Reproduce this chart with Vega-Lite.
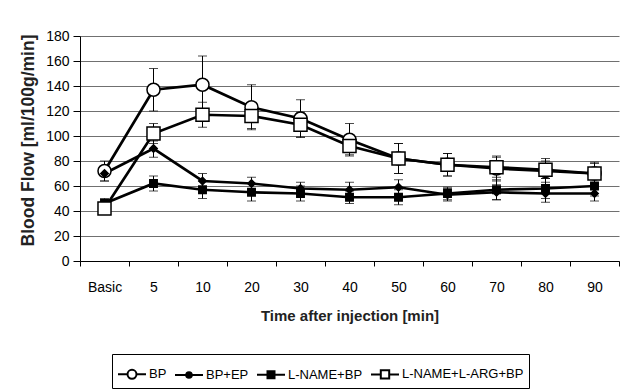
{
  "$schema": "https://vega.github.io/schema/vega-lite/v6.json",
  "autosize": {"type": "none"},
  "width": 539,
  "height": 225,
  "padding": {"left": 80, "top": 36, "right": 8, "bottom": 131},
  "background": "white",
  "config": {
    "view": {"stroke": null},
    "font": "Liberation Sans",
    "axis": {
      "domainColor": "black",
      "tickColor": "black",
      "labelColor": "black",
      "titleColor": "#222",
      "labelFont": "Liberation Sans",
      "titleFont": "Liberation Sans",
      "labelFontSize": 14,
      "titleFontWeight": "bold",
      "labelOverlap": false
    }
  },
  "datasets": {
    "flow": [
      {"series": "BP", "time": "Basic", "mean": 72, "lo": 64, "hi": 80},
      {"series": "BP", "time": "5", "mean": 137, "lo": 120, "hi": 154},
      {"series": "BP", "time": "10", "mean": 141, "lo": 118, "hi": 164},
      {"series": "BP", "time": "20", "mean": 123, "lo": 105, "hi": 141},
      {"series": "BP", "time": "30", "mean": 114, "lo": 99, "hi": 129},
      {"series": "BP", "time": "40", "mean": 97, "lo": 84, "hi": 110},
      {"series": "BP", "time": "50", "mean": 82, "lo": 70, "hi": 94},
      {"series": "BP", "time": "60", "mean": 77, "lo": 68, "hi": 86},
      {"series": "BP", "time": "70", "mean": 74, "lo": 64, "hi": 84},
      {"series": "BP", "time": "80", "mean": 72, "lo": 63, "hi": 82},
      {"series": "BP", "time": "90", "mean": 70, "lo": 61, "hi": 79},
      {"series": "BP+EP", "time": "Basic", "mean": 70, "lo": 64, "hi": 76},
      {"series": "BP+EP", "time": "5", "mean": 90, "lo": 83, "hi": 96},
      {"series": "BP+EP", "time": "10", "mean": 64, "lo": 58, "hi": 70},
      {"series": "BP+EP", "time": "20", "mean": 62, "lo": 57, "hi": 67},
      {"series": "BP+EP", "time": "30", "mean": 58, "lo": 53, "hi": 63},
      {"series": "BP+EP", "time": "40", "mean": 57, "lo": 51, "hi": 63},
      {"series": "BP+EP", "time": "50", "mean": 59, "lo": 53, "hi": 65},
      {"series": "BP+EP", "time": "60", "mean": 53, "lo": 48, "hi": 58},
      {"series": "BP+EP", "time": "70", "mean": 55, "lo": 49, "hi": 61},
      {"series": "BP+EP", "time": "80", "mean": 54, "lo": 47, "hi": 61},
      {"series": "BP+EP", "time": "90", "mean": 54, "lo": 48, "hi": 60},
      {"series": "L-NAME+BP", "time": "Basic", "mean": 46, "lo": 42, "hi": 50},
      {"series": "L-NAME+BP", "time": "5", "mean": 62, "lo": 56, "hi": 68},
      {"series": "L-NAME+BP", "time": "10", "mean": 57, "lo": 50, "hi": 64},
      {"series": "L-NAME+BP", "time": "20", "mean": 55, "lo": 48, "hi": 62},
      {"series": "L-NAME+BP", "time": "30", "mean": 54, "lo": 48, "hi": 60},
      {"series": "L-NAME+BP", "time": "40", "mean": 51, "lo": 46, "hi": 56},
      {"series": "L-NAME+BP", "time": "50", "mean": 51, "lo": 45, "hi": 57},
      {"series": "L-NAME+BP", "time": "60", "mean": 54, "lo": 49, "hi": 59},
      {"series": "L-NAME+BP", "time": "70", "mean": 57, "lo": 49, "hi": 65},
      {"series": "L-NAME+BP", "time": "80", "mean": 58, "lo": 50, "hi": 66},
      {"series": "L-NAME+BP", "time": "90", "mean": 60, "lo": 52, "hi": 68},
      {"series": "L-NAME+L-ARG+BP", "time": "Basic", "mean": 42, "lo": 39, "hi": 45},
      {"series": "L-NAME+L-ARG+BP", "time": "5", "mean": 102, "lo": 94, "hi": 110},
      {"series": "L-NAME+L-ARG+BP", "time": "10", "mean": 117, "lo": 107, "hi": 127},
      {"series": "L-NAME+L-ARG+BP", "time": "20", "mean": 116, "lo": 106, "hi": 126},
      {"series": "L-NAME+L-ARG+BP", "time": "30", "mean": 109, "lo": 99, "hi": 119},
      {"series": "L-NAME+L-ARG+BP", "time": "40", "mean": 92, "lo": 85, "hi": 99},
      {"series": "L-NAME+L-ARG+BP", "time": "50", "mean": 82, "lo": 70, "hi": 94},
      {"series": "L-NAME+L-ARG+BP", "time": "60", "mean": 77, "lo": 68, "hi": 86},
      {"series": "L-NAME+L-ARG+BP", "time": "70", "mean": 75, "lo": 67, "hi": 83},
      {"series": "L-NAME+L-ARG+BP", "time": "80", "mean": 73, "lo": 66, "hi": 80},
      {"series": "L-NAME+L-ARG+BP", "time": "90", "mean": 70, "lo": 62, "hi": 78}
    ]
  },
  "data": {"name": "flow"},
  "encoding": {
    "x": {
      "field": "time",
      "type": "ordinal",
      "sort": ["Basic", "5", "10", "20", "30", "40", "50", "60", "70", "80", "90"],
      "scale": {"type": "band", "paddingInner": 0, "paddingOuter": 0},
      "axis": {
        "title": "Time after injection [min]",
        "titleFontSize": 15,
        "titlePadding": 14,
        "labelAngle": 0,
        "tickBand": "extent",
        "tickSize": 5,
        "labelPadding": 14,
        "grid": false
      }
    },
    "y": {
      "type": "quantitative",
      "scale": {"domain": [0, 180], "nice": false},
      "axis": {"title": "Blood Flow [ml/100g/min]", "titleFontSize": 17.5, "titlePadding": 8, "titleY": 104, "values": [0, 20, 40, 60, 80, 100, 120, 140, 160, 180], "tickCount": 10, "tickSize": 7, "labelPadding": 4, "grid": true, "gridColor": "#707070", "gridWidth": 1, "gridOpacity": 1}
    }
  },
  "layer": [
    {
      "mark": {"type": "rule", "color": "black", "strokeWidth": 1},
      "encoding": {"y": {"field": "lo"}, "y2": {"field": "hi"}}
    },
    {
      "mark": {"type": "tick", "color": "black", "thickness": 1, "size": 9, "orient": "horizontal"},
      "encoding": {"y": {"field": "lo"}}
    },
    {
      "mark": {"type": "tick", "color": "black", "thickness": 1, "size": 9, "orient": "horizontal"},
      "encoding": {"y": {"field": "hi"}}
    },
    {
      "mark": {"type": "line", "color": "black", "strokeWidth": 2.7},
      "encoding": {"y": {"field": "mean"}, "detail": {"field": "series"}}
    },
    {
      "mark": {"type": "point", "filled": false, "stroke": "black", "strokeWidth": 1.5, "opacity": 1},
      "encoding": {
        "y": {"field": "mean"},
        "shape": {
          "condition": [
            {"test": "datum.series == 'BP'", "value": "circle"},
            {"test": "datum.series == 'BP+EP'", "value": "diamond"}
          ],
          "value": "square"
        },
        "fill": {
          "condition": {"test": "datum.series == 'BP' || datum.series == 'L-NAME+L-ARG+BP'", "value": "white"},
          "value": "black"
        },
        "size": {
          "condition": {"test": "datum.series == 'BP' || datum.series == 'L-NAME+L-ARG+BP'", "value": 170},
          "value": 55
        }
      }
    },
    {
      "transform": [{"filter": "datum.series == 'none'"}],
      "mark": {"type": "point", "filled": false, "strokeWidth": 2},
      "encoding": {
        "y": {"field": "mean"},
        "shape": {
          "field": "series",
          "type": "nominal",
          "scale": {
            "domain": ["BP", "BP+EP", "L-NAME+BP", "L-NAME+L-ARG+BP"],
            "range": [
              "M-1,0H-0.32M0.32,0H1M-0.32,0A0.32,0.32 0 1,1 0.32,0A0.32,0.32 0 1,1 -0.32,0Z",
              "M-1,0H1M-0.2,0A0.2,0.2 0 1,1 0.2,0A0.2,0.2 0 1,1 -0.2,0Z",
              "M-1,0H1M-0.25,-0.25H0.25V0.25H-0.25Z",
              "M-1,0H-0.3M0.3,0H1M-0.3,-0.3H0.3V0.3H-0.3Z"
            ]
          },
          "legend": {
            "title": null,
            "orient": "none",
            "legendX": 32,
            "legendY": 318,
            "direction": "horizontal",
            "columns": 4,
            "columnPadding": 4,
            "padding": 5,
            "strokeColor": "black",
            "fillColor": "white",
            "symbolSize": 784,
            "symbolStrokeWidth": 2,
            "symbolOpacity": 1,
            "labelFont": "Liberation Sans",
            "labelFontSize": 13,
            "labelColor": "black",
            "labelOffset": 2
          }
        },
        "fill": {
          "field": "series",
          "type": "nominal",
          "scale": {
            "domain": ["BP", "BP+EP", "L-NAME+BP", "L-NAME+L-ARG+BP"],
            "range": ["white", "black", "black", "white"]
          },
          "legend": {"title": null}
        },
        "stroke": {
          "field": "series",
          "type": "nominal",
          "scale": {
            "domain": ["BP", "BP+EP", "L-NAME+BP", "L-NAME+L-ARG+BP"],
            "range": ["black", "black", "black", "black"]
          },
          "legend": {"title": null}
        }
      }
    }
  ]
}
